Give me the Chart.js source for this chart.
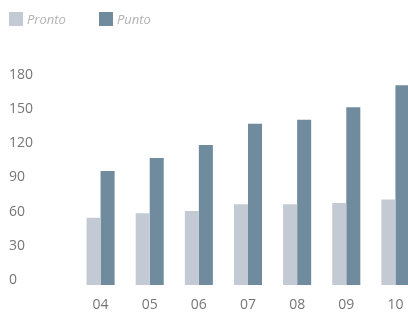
<!DOCTYPE html>
<html>
<head>
<meta charset="utf-8">
<script src="https://cdn.jsdelivr.net/npm/chart.js@4"></script>
<style>
    html, body { margin: 0; padding: 0; background: #fff; overflow: hidden; }
    #wrap { position: relative; width: 408px; height: 316px; overflow: hidden; }
    #chart { position: absolute; left: 0; top: 0; }
    #legend { position: absolute; left: 9px; top: 12px; display: flex; font: italic 13px "Open Sans", sans-serif; color: #b3b3b3; }
    .item { display: flex; align-items: center; width: 90px; height: 14px; }
    .box { width: 14px; height: 14px; margin-right: 4px; }
</style>
</head>
<body>
<div id="wrap">
    <canvas id="chart" width="420" height="316"></canvas>
    <div id="legend"></div>
</div>
<script>
const years = ['04', '05', '06', '07', '08', '09', '10'];
const seriesNames = ['Pronto', 'Punto'];
const prontoValues = [59, 63, 65, 71, 71, 72, 75];
const puntoValues = [100, 111.5, 123, 141.5, 145, 156, 175.5];
const yTicks = [0, 30, 60, 90, 120, 150, 180];
const colors = ['#c4cad3', '#718b9e'];

document.addEventListener('DOMContentLoaded', function () {
    const ctx = document.getElementById('chart').getContext('2d');

    const chart = new Chart(ctx, {
        type: 'bar',
        data: {
            labels: years,
            datasets: [
                { label: seriesNames[0], data: prontoValues, backgroundColor: colors[0] },
                { label: seriesNames[1], data: puntoValues, backgroundColor: colors[1] }
            ]
        },
        options: {
            responsive: false,
            animation: false,
            categoryPercentage: 0.571,
            barPercentage: 1.0,
            layout: { padding: { left: 9, right: 0, top: 80, bottom: 0 } },
            plugins: {
                legend: { display: false },
                tooltip: { enabled: false }
            },
            scales: {
                x: {
                    grid: { display: false, drawTicks: false },
                    border: { display: false },
                    ticks: {
                        color: '#767676',
                        padding: 12,
                        font: { family: 'Open Sans', size: 14 }
                    },
                    afterFit: function (scale) { scale.height = 31; }
                },
                y: {
                    min: yTicks[0],
                    max: yTicks[yTicks.length - 1],
                    grid: { display: false, drawTicks: false },
                    border: { display: false },
                    afterBuildTicks: function (scale) {
                        scale.ticks = yTicks.map(v => ({ value: v }));
                    },
                    ticks: {
                        color: '#767676',
                        crossAlign: 'far',
                        labelOffset: -5,
                        font: { family: 'Open Sans', size: 14 }
                    },
                    afterFit: function (scale) { scale.width = 67; }
                }
            }
        }
    });

    // simple html legend from the datasets
    const legend = document.getElementById('legend');
    chart.data.datasets.forEach(function (ds) {
        const item = document.createElement('div');
        item.className = 'item';
        const box = document.createElement('span');
        box.className = 'box';
        box.style.background = ds.backgroundColor;
        const text = document.createElement('span');
        text.textContent = ds.label;
        item.appendChild(box);
        item.appendChild(text);
        legend.appendChild(item);
    });
});
</script>
</body>
</html>
